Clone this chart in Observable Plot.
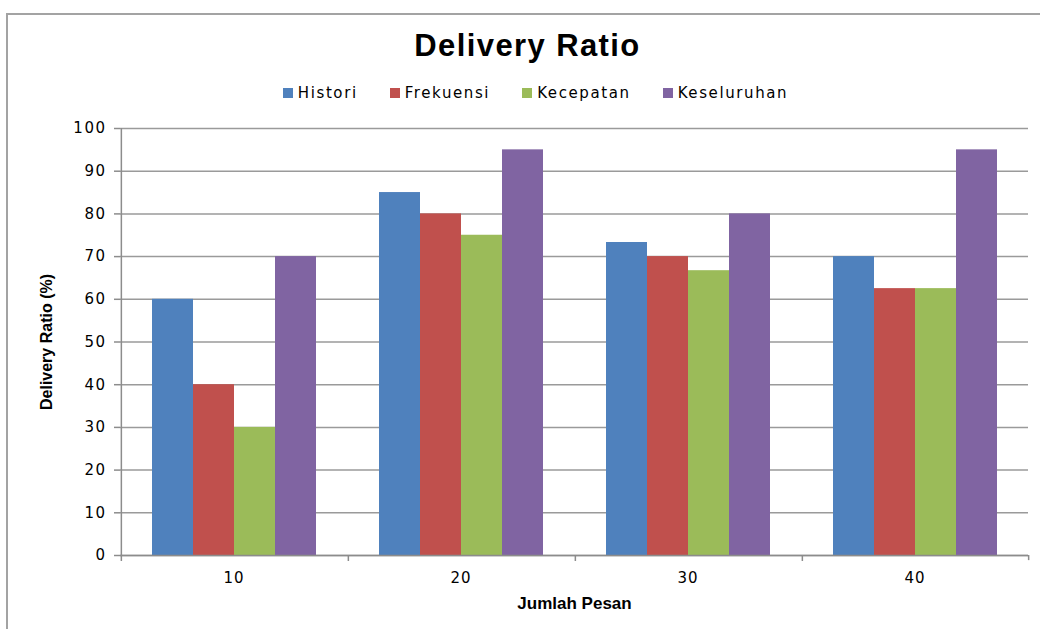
<!DOCTYPE html>
<html>
<head>
<meta charset="utf-8">
<script src="https://cdn.jsdelivr.net/npm/d3@7"></script>
<script src="https://cdn.jsdelivr.net/npm/@observablehq/plot@0.6"></script>
<style>
  body { margin: 0; background: #fff; width: 1040px; height: 629px; overflow: hidden; position: relative; }
  #border { position: absolute; left: 6px; top: 13px; width: 1100px; height: 700px; border-left: 2px solid #a3a3a3; border-top: 2px solid #a3a3a3; }
  #title { position: absolute; left: 0; top: 28px; width: 1055px; text-align: center; font-family: "Liberation Sans", Arial, sans-serif; font-weight: bold; font-size: 31px; letter-spacing: 1.4px; color: #000; }
  #legend { position: absolute; left: 0; top: 84px; width: 1071px; display: flex; justify-content: center; gap: 32px; font-family: "DejaVu Sans", Verdana, sans-serif; font-size: 15px; letter-spacing: 1.6px; color: #000; }
  #legend .item { display: flex; align-items: center; gap: 5px; }
  #legend .sw { width: 10px; height: 10px; display: inline-block; }
  #chart { position: absolute; left: 0; top: 110px; }
  #chart g[aria-label="y-axis tick label"] text { letter-spacing: 1.5px; }
  #chart g[aria-label="fx-axis tick label"] text { letter-spacing: 1px; }
</style>
</head>
<body>
<div id="border"></div>
<div id="title">Delivery Ratio</div>
<div id="legend"></div>
<div id="chart"></div>
<script>
const categories = ["10", "20", "30", "40"];
const series = ["Histori", "Frekuensi", "Kecepatan", "Keseluruhan"];
const histori = [60, 85, 73.3, 70];
const frekuensi = [40, 80, 70, 62.5];
const kecepatan = [30, 75, 66.7, 62.5];
const keseluruhan = [70, 95, 80, 95];
const colors = ["#4F81BD", "#C0504D", "#9BBB59", "#8064A2"];
const yTicks = [0, 10, 20, 30, 40, 50, 60, 70, 80, 90, 100];

const seriesValues = [histori, frekuensi, kecepatan, keseluruhan];
const data = categories.flatMap((c, i) => series.map((s, j) => ({Jumlah: c, Seri: s, value: seriesValues[j][i]})));

// legend
const legend = document.getElementById("legend");
series.forEach((s, j) => {
  const it = document.createElement("div");
  it.className = "item";
  const sw = document.createElement("span");
  sw.className = "sw";
  sw.style.background = colors[j];
  const t = document.createElement("span");
  t.textContent = s;
  it.appendChild(sw); it.appendChild(t);
  legend.appendChild(it);
});

const W = 1040, H = 519, mL = 119, mR = 12, mT = 18, mB = 74;
const paddingOuter = 0.75;
const facetW = (W - mL - mR) / categories.length;
const step = facetW / (series.length + 2 * paddingOuter);
const edge = (paddingOuter + 0.5) * step; // from first/last band centre to facet edge

const axisColor = "#8c8c8c";
const gridColor = "#9a9a9a";

const chart = Plot.plot({
  width: W, height: H,
  marginLeft: mL, marginRight: mR, marginTop: mT, marginBottom: mB,
  style: {fontFamily: "DejaVu Sans, Verdana, sans-serif", fontSize: "15px", color: "#000", background: "transparent"},
  fx: {domain: categories, padding: 0},
  x: {domain: series, paddingInner: 0, paddingOuter: paddingOuter},
  y: {domain: [0, 100]},
  color: {domain: series, range: colors},
  marks: [
    Plot.gridY(yTicks, {stroke: gridColor, strokeOpacity: 1, strokeWidth: 1.5}),
    Plot.barY(data, {fx: "Jumlah", x: "Seri", y: "value", fill: "Seri"}),
    Plot.ruleY([0], {stroke: axisColor, strokeWidth: 1.5}),
    // y axis line (first facet only)
    Plot.ruleX([{Jumlah: categories[0]}], {fx: "Jumlah", x: () => series[0], y1: 0, y2: 100, dx: -edge, stroke: axisColor, strokeWidth: 1.5}),
    // category boundary ticks
    Plot.ruleX(categories.map(c => ({Jumlah: c})), {fx: "Jumlah", x: () => series[0], y1: 0, y2: -1.4, dx: -edge, stroke: axisColor, strokeWidth: 1.5}),
    Plot.ruleX([{Jumlah: categories[categories.length - 1]}], {fx: "Jumlah", x: () => series[series.length - 1], y1: 0, y2: -1.2, dx: edge, stroke: axisColor, strokeWidth: 1.5}),
    Plot.axisY(yTicks, {tickSize: 6, tickPadding: 8, stroke: axisColor, strokeWidth: 1.5, fill: "#000", label: null}),
    Plot.axisX({ticks: [], label: null}),
    Plot.axisFx({anchor: "bottom", tickSize: 0, tickPadding: 17, label: null, fill: "#000"}),
    Plot.text([{Jumlah: categories[0]}], {fx: "Jumlah", frameAnchor: "left", y: () => 50, text: () => "Delivery Ratio (%)", rotate: -90, dx: -74, textAnchor: "middle", fontWeight: "bold", fontSize: 16, fontFamily: "Liberation Sans, Arial, sans-serif"}),
    Plot.text([{Jumlah: categories[1]}], {fx: "Jumlah", frameAnchor: "bottom-right", text: () => "Jumlah Pesan", dy: 53, fontWeight: "bold", fontSize: 17, fontFamily: "Liberation Sans, Arial, sans-serif", textAnchor: "middle"})
  ]
});
document.getElementById("chart").appendChild(chart);
</script>
</body>
</html>
